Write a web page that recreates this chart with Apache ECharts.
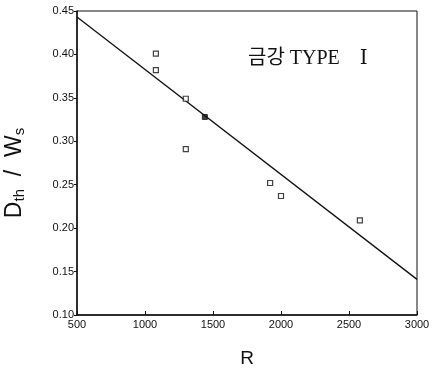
<!DOCTYPE html>
<html>
<head>
<meta charset="utf-8">
<script src="https://cdn.jsdelivr.net/npm/echarts@6/dist/echarts.min.js"></script>
<style>
  html, body { margin: 0; padding: 0; background: #fff; }
  #chart { width: 432px; height: 372px; }
</style>
</head>
<body>
<div id="chart"></div>
<script>
// measured points (R, Dth/Ws)
const rValues = [1080, 1080, 1300, 1300, 1920, 2000, 2580];
const dValues = [0.401, 0.382, 0.349, 0.291, 0.252, 0.237, 0.209];
// the one filled marker sitting on the line
const filledPoint = [1440, 0.328];
// regression line end points
const lineR = [500, 3000];
const lineD = [0.443, 0.141];

const xTicks = [500, 1000, 1500, 2000, 2500, 3000];
const yTicks = [0.10, 0.15, 0.20, 0.25, 0.30, 0.35, 0.40, 0.45];

const chart = echarts.init(document.getElementById('chart'));

const option = {
    animation: false,
    grid: {
        left: 77,
        right: 15,
        top: 11,
        bottom: 57,
        outerBoundsMode: 'none',
        show: true,
        borderColor: '#111',
        borderWidth: 1
    },
    xAxis: {
        type: 'value',
        min: xTicks[0],
        max: xTicks[xTicks.length - 1],
        interval: 500,
        name: 'R',
        nameLocation: 'middle',
        nameGap: 34,
        nameTextStyle: { fontFamily: 'Liberation Sans', fontSize: 19, color: '#111' },
        axisLine: { lineStyle: { color: '#111', width: 1.5 } },
        axisTick: { inside: true, length: 4, lineStyle: { color: '#111' } },
        axisLabel: {
            fontFamily: 'Liberation Sans',
            fontSize: 11,
            color: '#111',
            margin: 4,
            formatter: v => String(v)
        },
        splitLine: { show: false }
    },
    yAxis: {
        type: 'value',
        min: yTicks[0],
        max: yTicks[yTicks.length - 1],
        interval: 0.05,
        name: 'D{sub|th}  /  W{sub|s}',
        nameLocation: 'middle',
        nameGap: 50,
        nameRotate: 90,
        nameTextStyle: {
            fontFamily: 'Liberation Sans',
            fontSize: 23,
            color: '#111',
            padding: [0, 20, 0, 0],
            rich: {
                sub: { fontFamily: 'Liberation Sans', fontSize: 15, color: '#111', verticalAlign: 'bottom', padding: [9, 0, 0, 0] }
            }
        },
        axisLine: { lineStyle: { color: '#111', width: 1.5 } },
        axisTick: { length: 3, lineStyle: { color: '#111' } },
        axisLabel: {
            fontFamily: 'Liberation Sans',
            fontSize: 11,
            color: '#111',
            margin: 3,
            formatter: v => v.toFixed(2)
        },
        splitLine: { show: false }
    },
    graphic: [{
        type: 'text',
        left: 248,
        top: 49,
        style: {
            text: '금강 TYPE    Ⅰ',
            fontFamily: 'Liberation Serif, DejaVu Serif, Noto Sans CJK KR',
            fontSize: 20,
            fill: '#111'
        }
    }],
    series: [
        {
            type: 'line',
            data: lineR.map((r, i) => [r, lineD[i]]),
            symbol: 'none',
            lineStyle: { color: '#111', width: 1.3 },
            z: 2
        },
        {
            type: 'scatter',
            data: rValues.map((r, i) => [r, dValues[i]]),
            symbol: 'rect',
            symbolSize: 5,
            itemStyle: { color: '#fff', borderColor: '#111', borderWidth: 1.2 },
            z: 3
        },
        {
            type: 'scatter',
            data: [filledPoint],
            symbol: 'rect',
            symbolSize: 5,
            itemStyle: { color: '#111', borderColor: '#111', borderWidth: 1 },
            z: 3
        }
    ]
};

chart.setOption(option);
</script>
</body>
</html>
